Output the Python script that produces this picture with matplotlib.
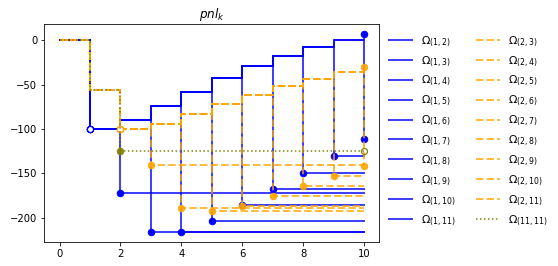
import numpy as np
import matplotlib
matplotlib.use('Agg')
import matplotlib.pyplot as plt

# time steps
k = np.arange(11)

# running pnl of the "enter at 1" path (blue) and its exit values
stair_1 = [0, -100, -89.5, -73.7, -57.9, -42.2, -28.6, -17.4, -7.2, 0.7, 7.1]
exit_1 = [-172.5, -216, -216, -203.7, -185.7, -167.6, -150, -130.4, -111.3]

# running pnl of the "enter at 2" path (orange) and its exit values
stair_2 = [0, -56, -100, -94.4, -83.4, -71.8, -61.7, -51.5, -43.3, -35.4, -30.1]
exit_2 = [-140.6, -188.7, -192.4, -186.5, -175.4, -164, -152.9, -141.7]

# never entered (olive)
path_11 = [0, -56, -125, -125, -125, -125, -125, -125, -125, -125, -125]


def make_path(stair, exit_vals, j):
    # follow the staircase until time j, then hold the exit value
    vals = list(stair)
    if j <= 10:
        for t in range(j, 11):
            vals[t] = exit_vals
    return vals


fig = plt.figure(figsize=(558 / 72, 266 / 72), dpi=72)
ax = fig.add_axes([0.0794, 0.0914, 0.6003, 0.8172])

# blue series Omega(1, j)
for j in range(2, 12):
    if j <= 10:
        vals = make_path(stair_1, exit_1[j - 2], j)
    else:
        vals = list(stair_1)
    ax.plot(k, vals, drawstyle='steps-post', color='blue', lw=2, alpha=0.75,
            label=r'$\Omega_{(1,%d)}$' % j)
    ax.plot(k[1], vals[1], 'o', ms=6, mfc='white', mec='blue', mew=1.2)
    end = min(j, 10)
    ax.plot(k[end], vals[end], 'o', ms=6.5, color='blue')

# orange series Omega(2, j)
for j in range(3, 12):
    if j <= 10:
        vals = make_path(stair_2, exit_2[j - 3], j)
    else:
        vals = list(stair_2)
    ax.plot(k, vals, drawstyle='steps-post', color='orange', lw=2, ls='--',
            alpha=0.75, label=r'$\Omega_{(2,%d)}$' % j)
    ax.plot(k[2], vals[2], 'o', ms=6, mfc='white', mec='orange', mew=1.2,
            alpha=0.9)
    end = min(j, 10)
    ax.plot(k[end], vals[end], 'o', ms=6.5, color='orange', alpha=0.9)

# olive series Omega(11, 11)
ax.plot(k, path_11, drawstyle='steps-post', color='olive', lw=1.5, ls=':',
        label=r'$\Omega_{(11,11)}$')
ax.plot(k[2], path_11[2], 'o', ms=6.5, color='olive', alpha=0.9)
ax.plot(k[10], path_11[10], 'o', ms=6, mfc='none', mec='olive', mew=1.2)

ax.set_title(r'$pnl_k$')
ax.legend(ncol=2, frameon=False, loc='upper left', bbox_to_anchor=(1.0, 1.0),
          fontsize=11, labelspacing=0.5, handlelength=2.1, columnspacing=1.9)

fig.savefig('out.png', dpi=72)
